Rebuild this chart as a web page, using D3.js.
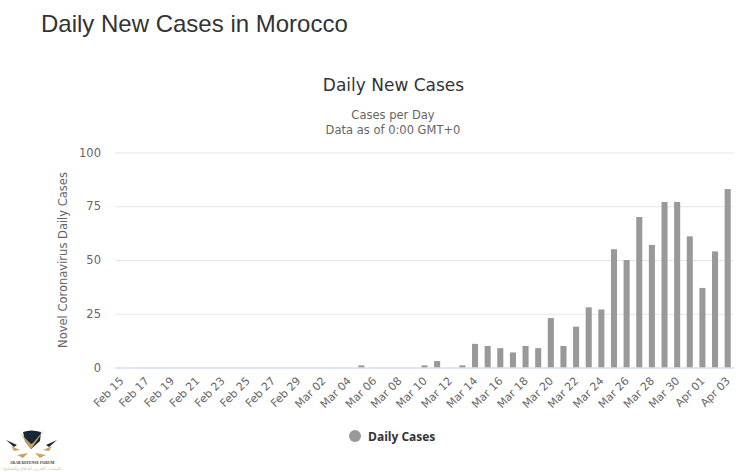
<!DOCTYPE html>
<html>
<head>
<meta charset="utf-8">
<script src="https://cdn.jsdelivr.net/npm/d3@7"></script>
<style>
  html, body { margin: 0; padding: 0; background: #fff; }
  svg { display: block; }
</style>
</head>
<body>
<svg id="chart"></svg>
<script>
const dates = ["Feb 15","Feb 16","Feb 17","Feb 18","Feb 19","Feb 20","Feb 21","Feb 22","Feb 23","Feb 24","Feb 25","Feb 26","Feb 27","Feb 28","Feb 29",
  "Mar 01","Mar 02","Mar 03","Mar 04","Mar 05","Mar 06","Mar 07","Mar 08","Mar 09","Mar 10","Mar 11","Mar 12","Mar 13","Mar 14","Mar 15","Mar 16",
  "Mar 17","Mar 18","Mar 19","Mar 20","Mar 21","Mar 22","Mar 23","Mar 24","Mar 25","Mar 26","Mar 27","Mar 28","Mar 29","Mar 30","Mar 31","Apr 01","Apr 02","Apr 03"];
const dailyCases = [0,0,0,0,0,0,0,0,0,0,0,0,0,0,0,
  0,0,0,0,1,0,0,0,0,1,3,0,1,11,10,9,
  7,10,9,23,10,19,28,27,55,50,70,57,77,77,61,37,54,83];
const yTicks = [0, 25, 50, 75, 100];

const width = 744;
const height = 472;
const plotLeft = 115, plotRight = 734, plotTop = 152.5, plotBottom = 367.5;
const font = "'DejaVu Sans', sans-serif";

const svg = d3.select("#chart")
    .attr("width", width)
    .attr("height", height);

const x = d3.scaleBand()
    .domain(dates)
    .range([plotLeft, plotRight])
    .paddingInner(0.52)
    .paddingOuter(0.26);

const y = d3.scaleLinear()
    .domain([0, 100])
    .range([plotBottom, plotTop]);

// titles
svg.append("text")
    .attr("x", 41).attr("y", 32)
    .attr("font-family", "'Liberation Sans', Arial, sans-serif")
    .attr("font-size", 24)
    .attr("fill", "#333")
    .text("Daily New Cases in Morocco");

svg.append("text")
    .attr("x", 393.5).attr("y", 91)
    .attr("text-anchor", "middle")
    .attr("font-family", font)
    .attr("font-size", 17)
    .attr("fill", "#333")
    .text("Daily New Cases");

svg.selectAll(".subtitle")
    .data(["Cases per Day", "Data as of 0:00 GMT+0"])
    .enter()
    .append("text")
    .attr("class", "subtitle")
    .attr("x", 393)
    .attr("y", (_, i) => 119 + i * 15)
    .attr("text-anchor", "middle")
    .attr("font-family", font)
    .attr("font-size", 11.5)
    .attr("fill", "#666")
    .text(d => d);

// y axis + gridlines
const yAxis = svg.append("g")
    .attr("transform", `translate(${plotLeft},0)`)
    .call(d3.axisLeft(y).tickValues(yTicks).tickSize(-(plotRight - plotLeft)).tickPadding(14));
yAxis.select(".domain").remove();
yAxis.selectAll("line").attr("stroke", "#e6e6e6");
yAxis.selectAll("text")
    .attr("font-family", font)
    .attr("font-size", 11.5)
    .attr("fill", "#666");

svg.append("text")
    .attr("transform", `translate(67,260) rotate(-90)`)
    .attr("text-anchor", "middle")
    .attr("font-family", font)
    .attr("font-size", 11.5)
    .attr("fill", "#666")
    .text("Novel Coronavirus Daily Cases");

// bars
svg.selectAll("rect.bar")
    .data(dailyCases)
    .enter()
    .append("rect")
    .attr("class", "bar")
    .attr("x", (_, i) => x(dates[i]))
    .attr("y", d => y(d))
    .attr("width", x.bandwidth())
    .attr("height", d => plotBottom - y(d))
    .attr("fill", "#999");

// x axis, every second date
const xAxis = svg.append("g")
    .attr("transform", `translate(0,${plotBottom})`)
    .call(d3.axisBottom(x).tickValues(dates.filter((_, i) => i % 2 === 0)).tickSize(0));
xAxis.select(".domain").attr("stroke", "#ccd6eb");
xAxis.selectAll("text")
    .attr("font-family", font)
    .attr("font-size", 11)
    .attr("fill", "#666")
    .attr("text-anchor", "end")
    .attr("dy", 0)
    .attr("transform", "translate(1,12) rotate(-45)");

// legend
svg.append("circle")
    .attr("cx", 355).attr("cy", 436).attr("r", 6)
    .attr("fill", "#999");
svg.append("text")
    .attr("x", 368).attr("y", 441)
    .attr("font-family", "'Open Sans', sans-serif")
    .attr("font-size", 12)
    .attr("font-weight", "bold")
    .attr("fill", "#333")
    .text("Daily Cases");

// watermark logo
const logo = svg.append("g");
logo.append("path")
    .attr("d", "M23 432 Q31 429 41 432 L40 441 L31 449 L25 441 Z")
    .attr("fill", "#14283a");
logo.append("path")
    .attr("d", "M20 433 L31 449 L45 429 L33 443 L31 444 Z")
    .attr("fill", "#c9a55c");
logo.append("path")
    .attr("d", "M6 440 L17 445 L14 447 Z M57 440 L46 445 L49 447 Z")
    .attr("fill", "#222");
logo.append("path")
    .attr("d", "M11 446 L20 450 L14 451 Z M52 446 L43 450 L49 451 Z M17 455 L28 453 L23 458 Z M46 455 L35 453 L40 458 Z")
    .attr("fill", "#c9a55c");
logo.append("text")
    .attr("x", 32).attr("y", 464)
    .attr("text-anchor", "middle")
    .attr("font-family", "'Liberation Serif', serif")
    .attr("font-size", 3.8)
    .attr("font-weight", "bold")
    .attr("fill", "#333")
    .text("ARAB DEFENSE FORUM");
logo.append("text")
    .attr("x", 32).attr("y", 470)
    .attr("text-anchor", "middle")
    .attr("font-family", "'DejaVu Sans', sans-serif")
    .attr("font-size", 4.5)
    .attr("fill", "#d8c49a")
    .text("المنتدى العربي للدفاع والتسليح");
</script>
</body>
</html>
